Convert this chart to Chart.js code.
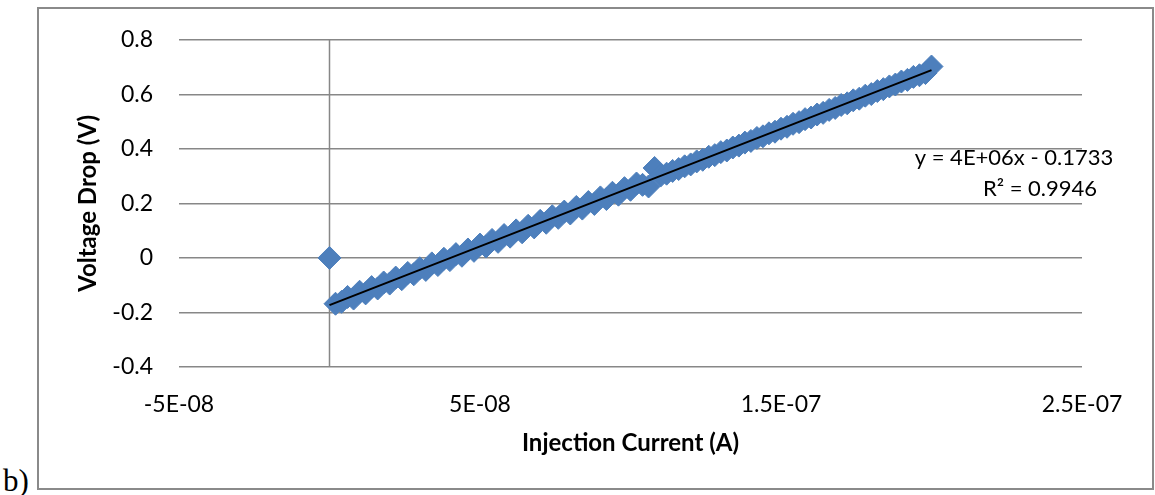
<!DOCTYPE html>
<html><head><meta charset="utf-8">
<script src="https://cdn.jsdelivr.net/npm/chart.js@4.4.1/dist/chart.umd.min.js"></script>
<style>
html,body{margin:0;padding:0;background:#fff;}
body{width:1155px;height:495px;position:relative;overflow:hidden;}
#frame{position:absolute;left:37px;top:7px;width:1117px;height:483px;border:2px solid #8a8a8a;box-sizing:border-box;}
#tag{position:absolute;left:3px;top:465px;font-family:'Liberation Serif','Times New Roman',serif;font-size:31px;line-height:1;color:#000;}
canvas{position:absolute;left:0;top:0;}
</style></head><body>
<div id="frame"></div>
<div id="tag">b)</div>
<canvas id="c" width="1155" height="495"></canvas>
<script>
// Injection current in nanoamps (converted to A below)
const currentNA = [0,
  2, 4, 6, 8, 10, 12, 14, 16, 18, 20,
  22, 24, 26, 28, 30, 32, 34, 36, 38, 40,
  42, 44, 46, 48, 50, 52, 54, 56, 58, 60,
  62, 64, 66, 68, 70, 72, 74, 76, 78, 80,
  82, 84, 86, 88, 90, 92, 94, 96, 98, 100,
  102, 104, 106, 108, 110, 112, 114, 116, 118, 120,
  122, 124, 126, 128, 130, 132, 134, 136, 138, 140,
  142, 144, 146, 148, 150, 152, 154, 156, 158, 160,
  162, 164, 166, 168, 170, 172, 174, 176, 178, 180,
  182, 184, 186, 188, 190, 192, 194, 196, 198, 200];
// Voltage drop in volts
const voltageV = [0,
  -0.168, -0.161, -0.143, -0.149, -0.124, -0.130, -0.107, -0.112, -0.090, -0.094,
  -0.072, -0.078, -0.055, -0.060, -0.038, -0.044, -0.020, -0.026, -0.003, -0.008,
  0.014, 0.008, 0.031, 0.026, 0.049, 0.042, 0.066, 0.059, 0.084, 0.078,
  0.101, 0.094, 0.118, 0.112, 0.136, 0.129, 0.153, 0.147, 0.170, 0.163,
  0.187, 0.181, 0.205, 0.198, 0.222, 0.216, 0.239, 0.232, 0.256, 0.250,
  0.273, 0.268, 0.262, 0.330, 0.302, 0.309, 0.319, 0.326, 0.336, 0.343,
  0.354, 0.360, 0.371, 0.377, 0.388, 0.394, 0.405, 0.412, 0.423, 0.429,
  0.440, 0.446, 0.457, 0.463, 0.474, 0.481, 0.492, 0.498, 0.509, 0.515,
  0.526, 0.532, 0.543, 0.550, 0.561, 0.567, 0.578, 0.584, 0.595, 0.601,
  0.612, 0.619, 0.629, 0.636, 0.647, 0.653, 0.664, 0.670, 0.678, 0.702];

const xTickValues = [-5e-8, 5e-8, 1.5e-7, 2.5e-7];
const xTickLabels = ['-5E-08', '5E-08', '1.5E-07', '2.5E-07'];
const yTickValues = [-0.4, -0.2, 0, 0.2, 0.4, 0.6, 0.8];
const yTickLabels = ['-0.4', '-0.2', '0', '0.2', '0.4', '0.6', '0.8'];

const trendSlope = 4.31e6;
const trendIntercept = -0.1733;
const trendRangeA = [0, 2e-7];
const equationLines = ['y = 4E+06x - 0.1733', 'R\u00B2 = 0.9946'];

const xTitle = 'Injection Current (A)';
const yTitle = 'Voltage Drop (V)';

const GRID = '#878787';
const BLUE = '#4d7fbc';

const points = currentNA.map((c, i) => ({ x: c * 1e-9, y: voltageV[i] }));
const trendPoints = trendRangeA.map(x => ({ x: x, y: trendSlope * x + trendIntercept }));

const zeroAxisPlugin = {
  id: 'zeroAxis',
  beforeDatasetsDraw(chart) {
    const { ctx, chartArea, scales } = chart;
    const x0 = scales.x.getPixelForValue(0);
    ctx.save();
    ctx.strokeStyle = GRID;
    ctx.lineWidth = 1.5;
    ctx.beginPath();
    ctx.moveTo(x0, chartArea.top);
    ctx.lineTo(x0, chartArea.bottom);
    ctx.stroke();
    ctx.restore();
  }
};

const equationPlugin = {
  id: 'equation',
  afterDatasetsDraw(chart) {
    const { ctx } = chart;
    ctx.save();
    ctx.font = '22px Lato';
    ctx.fillStyle = '#000';
    ctx.textAlign = 'center';
    ctx.textBaseline = 'middle';
    ctx.fillText(equationLines[0], 1014, 158);
    ctx.fillText(equationLines[1], 1040, 189);
    ctx.restore();
  }
};

new Chart(document.getElementById('c'), {
  type: 'scatter',
  data: {
    datasets: [
      {
        type: 'line',
        data: trendPoints,
        borderColor: '#000',
        borderWidth: 2,
        pointRadius: 0,
        fill: false,
        tension: 0
      },
      {
        data: points,
        pointStyle: 'rectRot',
        pointRadius: 11.5,
        backgroundColor: BLUE,
        borderColor: BLUE,
        borderWidth: 1
      }
    ]
  },
  options: {
    responsive: false,
    animation: false,
    layout: { padding: { left: 0, top: 38, right: 73, bottom: 0 } },
    plugins: { legend: { display: false }, tooltip: { enabled: false } },
    scales: {
      x: {
        type: 'linear',
        min: -5e-8,
        max: 2.5e-7,
        afterBuildTicks: s => { s.ticks = xTickValues.map(v => ({ value: v })); },
        afterFit: s => { s.height = 128; },
        ticks: {
          callback: (v, i) => xTickLabels[i],
          font: { family: 'Lato', size: 23 },
          color: '#000',
          padding: 24,
          maxRotation: 0,
          autoSkip: false
        },
        grid: { display: false, drawTicks: false },
        border: { display: false },
        title: {
          display: true,
          text: xTitle,
          font: { family: 'Lato', size: 24, weight: 'bold' },
          color: '#000',
          padding: { top: 0, bottom: 37 }
        }
      },
      y: {
        type: 'linear',
        min: -0.4,
        max: 0.8,
        afterBuildTicks: s => { s.ticks = yTickValues.map(v => ({ value: v })); },
        afterFit: s => { s.width = 179; },
        ticks: {
          callback: (v, i) => yTickLabels[i],
          font: { family: 'Lato', size: 23 },
          color: '#000',
          padding: 26
        },
        grid: { color: GRID, lineWidth: 1.5, drawTicks: false },
        border: { display: false },
        title: {
          display: true,
          text: yTitle,
          font: { family: 'Lato', size: 24, weight: 'bold' },
          color: '#000',
          padding: { top: 74, bottom: 0 }
        }
      }
    }
  },
  plugins: [zeroAxisPlugin, equationPlugin]
});
</script></body></html>
